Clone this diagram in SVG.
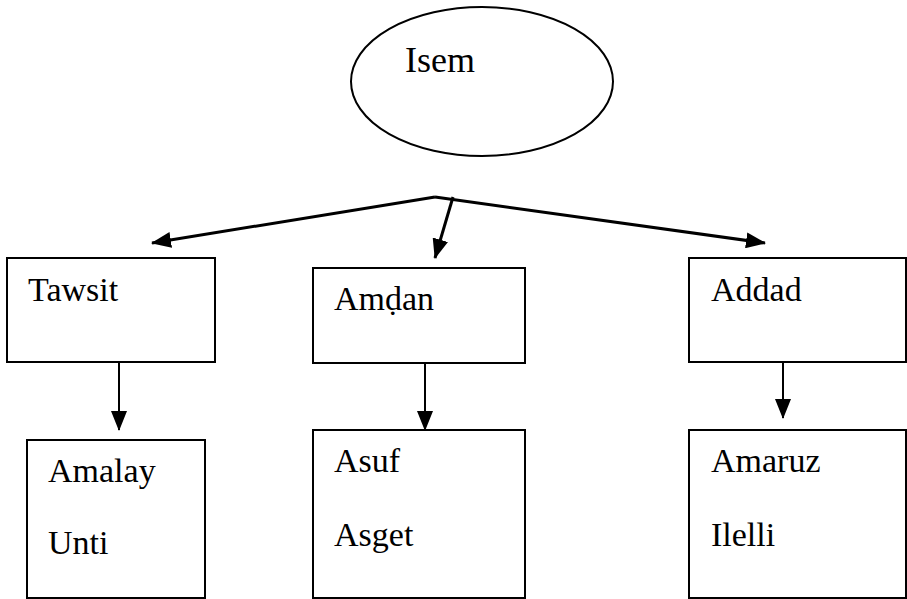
<svg xmlns="http://www.w3.org/2000/svg" width="907" height="599" viewBox="0 0 907 599">
<defs>
<marker id="ah" markerUnits="userSpaceOnUse" viewBox="0 0 20 16" markerWidth="20" markerHeight="16" refX="19" refY="8" orient="auto">
<path d="M0,0 L20,8 L0,16 Z" fill="#000"/>
</marker>
<style>
.box{fill:#fff;stroke:#000;stroke-width:2}
.c{fill:none;stroke:#000;stroke-width:3}
.v{fill:none;stroke:#000;stroke-width:2}
</style>
</defs>
<rect width="907" height="599" fill="#fff"/>
<g id="isem">
<ellipse cx="482" cy="81.5" rx="131" ry="74.5" fill="#fff" stroke="#000" stroke-width="2"/>
<text x="405" y="72" font-size="36" style="font-family:'Liberation Serif',serif">Isem</text>
</g>
<g id="tawsit">
<rect class="box" x="7" y="258" width="208" height="104"/>
<text x="28" y="301" font-size="34" style="font-family:'Liberation Serif',serif">Tawsit</text>
</g>
<g id="amdan">
<rect class="box" x="313" y="268" width="212" height="95"/>
<text x="334" y="310" font-size="34" style="font-family:'Liberation Serif',serif">Amḍan</text>
</g>
<g id="addad">
<rect class="box" x="689" y="258" width="217" height="104"/>
<text x="711" y="301" font-size="34" style="font-family:'Liberation Serif',serif">Addad</text>
</g>
<g id="amalay">
<rect class="box" x="27" y="440" width="178" height="158"/>
<text x="48" y="482" font-size="34" style="font-family:'Liberation Serif',serif">Amalay</text>
<text x="48" y="554" font-size="34" style="font-family:'Liberation Serif',serif">Unti</text>
</g>
<g id="asuf">
<rect class="box" x="313" y="430" width="212" height="168"/>
<text x="334" y="472" font-size="34" style="font-family:'Liberation Serif',serif">Asuf</text>
<text x="334" y="546" font-size="34" style="font-family:'Liberation Serif',serif">Asget</text>
</g>
<g id="amaruz">
<rect class="box" x="689" y="430" width="217" height="168"/>
<text x="711" y="472" font-size="34" style="font-family:'Liberation Serif',serif">Amaruz</text>
<text x="711" y="546" font-size="34" style="font-family:'Liberation Serif',serif">Ilelli</text>
</g>
<g id="connectors">
<path class="c" d="M435,197 L152,243" marker-end="url(#ah)"/>
<path class="c" d="M435,197 L765,243" marker-end="url(#ah)"/>
<path class="c" d="M453,197 L435,258" marker-end="url(#ah)"/>
<path class="v" d="M119,362 L119,430" marker-end="url(#ah)"/>
<path class="v" d="M425,363 L425,430" marker-end="url(#ah)"/>
<path class="v" d="M783,362 L783,418" marker-end="url(#ah)"/>
</g>
</svg>
